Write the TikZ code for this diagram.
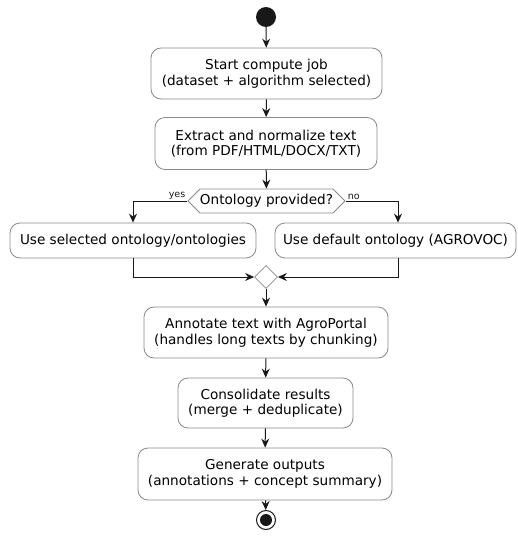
\documentclass[tikz,border=0pt]{standalone}
\usepackage{fontspec}
\setmainfont{DejaVu Sans}
\usetikzlibrary{arrows.meta,shapes.geometric,shapes.symbols}
\definecolor{boxline}{HTML}{8A8A8A}
\definecolor{ink}{HTML}{181818}
\begin{document}
\begin{tikzpicture}[x=1pt,y=-1pt,
  act/.style={draw=boxline,fill=white,rounded corners=10pt,line width=0.8pt,align=center,
    font=\fontsize{13.6}{15.5}\selectfont,text=black,inner sep=0pt},
  flow/.style={draw=ink,line width=1pt,-{Stealth[length=9pt,width=8pt,inset=3pt]}},
  lbl/.style={font=\fontsize{9.5}{11}\selectfont,text=ink,inner sep=1pt}]
\useasboundingbox (0,0) rectangle (517,541);
\node[circle,fill=ink,minimum size=20pt,inner sep=0pt] (start) at (266,17) {};
\node[act,minimum width=231pt,minimum height=51pt] (b1) at (266.5,73.5) {Start compute job\\(dataset + algorithm selected)};
\node[act,minimum width=222pt,minimum height=52pt] (b2) at (266,143.5) {Extract and normalize text\\(from PDF/HTML/DOCX/TXT)};
\node[signal,signal to=west and east,signal pointer angle=90,draw=boxline,fill=white,line width=0.8pt,
  minimum width=157pt,minimum height=24pt,inner sep=0pt,font=\fontsize{13.6}{15.5}\selectfont] (dec) at (266.5,201) {Ontology provided?};
\node[act,minimum width=246pt,minimum height=35pt] (L) at (133,240.5) {Use selected ontology/ontologies};
\node[act,minimum width=241pt,minimum height=35pt] (R) at (395.5,240.5) {Use default ontology (AGROVOC)};
\node[diamond,draw=boxline,fill=white,line width=0.8pt,minimum width=23pt,minimum height=23pt,inner sep=0pt] (M) at (266,277) {};
\node[act,minimum width=244pt,minimum height=51pt] (b3) at (266,332.5) {Annotate text with AgroPortal\\(handles long texts by chunking)};
\node[act,minimum width=175pt,minimum height=50pt] (b4) at (265.5,403) {Consolidate results\\(merge + deduplicate)};
\node[act,minimum width=254pt,minimum height=52pt] (b5) at (265,474) {Generate outputs\\(annotations + concept summary)};
\node[circle,draw=ink,fill=white,line width=1pt,minimum size=19pt,inner sep=0pt] (stop) at (266,520) {};
\node[circle,fill=ink,minimum size=12pt,inner sep=0pt] (stopin) at (stop) {};
\coordinate (lt) at (133,201);
\coordinate (rt) at (398,201);
\coordinate (lb) at (133,277);
\coordinate (rb) at (398,277);
\draw[flow] (start) -- (b1);
\draw[flow] (b1) -- (b2);
\draw[flow] (b2) -- (dec);
\draw[flow] (dec.west) -- (lt) -- (lt |- L.north);
\draw[flow] (dec.east) -- (rt) -- (rt |- R.north);
\node[lbl,anchor=south east] (yes) at ([xshift=-1pt]dec.west) {yes};
\node[lbl,anchor=south west] (no) at ([xshift=1pt]dec.east) {no};
\draw[flow] (lb |- L.south) -- (lb) -- (M.west);
\draw[flow] (rb |- R.south) -- (rb) -- (M.east);
\draw[flow] (M) -- (b3);
\draw[flow] (b3) -- (b4);
\draw[flow] (b4) -- (b5);
\draw[flow] (b5) -- (stop);
\end{tikzpicture}
\end{document}
